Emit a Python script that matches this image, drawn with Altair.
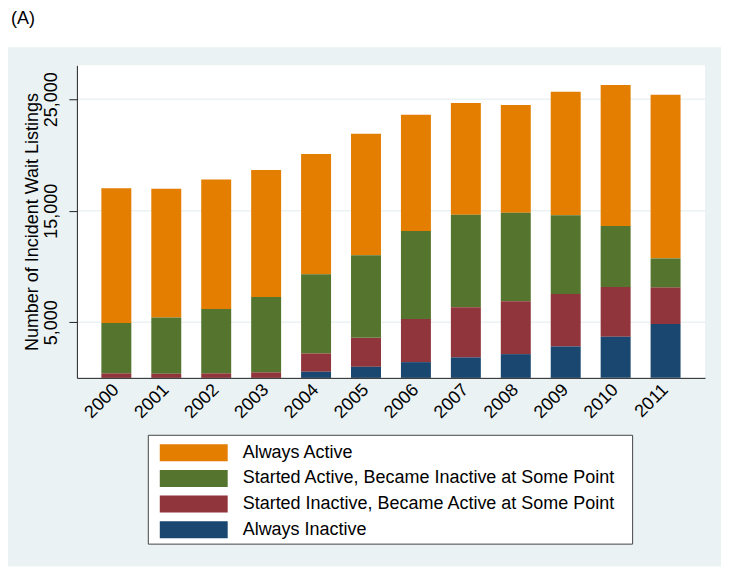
import altair as alt
import pandas as pd

# ---------------- data ----------------
years = ["2000", "2001", "2002", "2003", "2004", "2005",
         "2006", "2007", "2008", "2009", "2010", "2011"]
categories = [
    "Always Active",
    "Started Active, Became Inactive at Some Point",
    "Started Inactive, Became Active at Some Point",
    "Always Inactive",
]
colors = ["#E37E00", "#55752F", "#90353B", "#1A476F"]

always_active = [12090, 11550, 11610, 11405, 10810, 10920, 10450, 10030, 9670, 11075, 12655, 14685]
started_active = [4530, 5045, 5790, 6770, 7100, 7405, 7880, 8295, 7940, 7070, 5465, 2625]
started_inactive = [400, 370, 400, 490, 1640, 2595, 3875, 4505, 4745, 4710, 4475, 3255]
always_inactive = [0, 0, 0, 0, 550, 995, 1415, 1835, 2130, 2820, 3680, 4845]

y_ticks = [5000, 15000, 25000]
panel_label = "(A)"
y_title = "Number of Incident Wait Listings"

series = [always_active, started_active, started_inactive, always_inactive]
rows = []
for ci, (cat, vals) in enumerate(zip(categories, series)):
    for yr, v in zip(years, vals):
        rows.append({"year": yr, "cat": cat, "value": v, "rank": len(categories) - 1 - ci})
df = pd.DataFrame(rows)
grid_df = pd.DataFrame({"value": y_ticks})
one = pd.DataFrame({"a": [0]})

# ---------------- style ----------------
FONT = "Liberation Sans"
BG = "#EAF2F3"
W, H = 629, 313

yscale = alt.Scale(domain=[0, 28050], nice=False, zero=True)
yaxis = alt.Axis(
    values=y_ticks, format=",d", labelAngle=270, labelAlign="center",
    labelBaseline="bottom", labelFontSize=18, labelFont=FONT, labelColor="black",
    labelPadding=8, tickSize=8, tickColor="#222222", domainColor="#222222",
    grid=False, title=y_title, titleFontSize=18, titleFont=FONT,
    titleFontWeight="normal", titleColor="black", titlePadding=1, zindex=1,
)
xaxis = alt.Axis(
    title=None, labelAngle=315, labelAlign="right", labelBaseline="middle",
    labelFontSize=18, labelFont=FONT, labelColor="black", labelPadding=9,
    ticks=False, tickSize=0, domainColor="#222222", grid=False, zindex=1,
)

legend = alt.Legend(
    orient="none", legendX=71, legendY=371, title=None,
    symbolType="M-1,-1.7H12.6V1.7H-1Z", symbolSize=100, symbolStrokeWidth=0,
    symbolOpacity=1, labelFontSize=18, labelFont=FONT, labelColor="black",
    labelOffset=69, labelLimit=600, rowPadding=7.7, padding=8,
)

frame = alt.Chart(one).mark_rect(opacity=0).encode(
    x=alt.value(-69), x2=alt.value(645), y=alt.value(-57), y2=alt.value(502)
)
grey_region = alt.Chart(one).mark_rect(fill=BG).encode(
    x=alt.value(-69), x2=alt.value(645), y=alt.value(-18), y2=alt.value(502)
)
plot_bg = alt.Chart(one).mark_rect(fill="white").encode(
    x=alt.value(0), x2=alt.value(W), y=alt.value(0), y2=alt.value(H)
)
grid = alt.Chart(grid_df).mark_rule(color=BG, strokeWidth=1.5).encode(
    y=alt.Y("value:Q", scale=yscale, axis=yaxis)
)
bars = alt.Chart(df).mark_bar().encode(
    x=alt.X("year:O", scale=alt.Scale(paddingInner=0.4, paddingOuter=0.49), axis=xaxis),
    y=alt.Y("value:Q", stack="zero", scale=yscale, axis=yaxis),
    color=alt.Color("cat:N", scale=alt.Scale(domain=categories, range=colors), legend=legend),
    order=alt.Order("rank:Q", sort="ascending"),
)
legend_box = alt.Chart(one).mark_rect(fill="white", stroke="#444444", strokeWidth=1).encode(
    x=alt.value(71.5), x2=alt.value(556.5), y=alt.value(370.5), y2=alt.value(479.5)
)
label = alt.Chart(one).mark_text(
    align="left", baseline="top", fontSize=18, font=FONT, color="black"
).encode(x=alt.value(-66), y=alt.value(-55), text=alt.value(panel_label))

chart = alt.layer(frame, grey_region, plot_bg, grid, bars, legend_box, label).properties(
    width=W, height=H, padding=0, background="white"
).configure_view(fill="white", strokeWidth=0)

chart.save("out.html", embed_options={"renderer": "svg", "actions": False})
